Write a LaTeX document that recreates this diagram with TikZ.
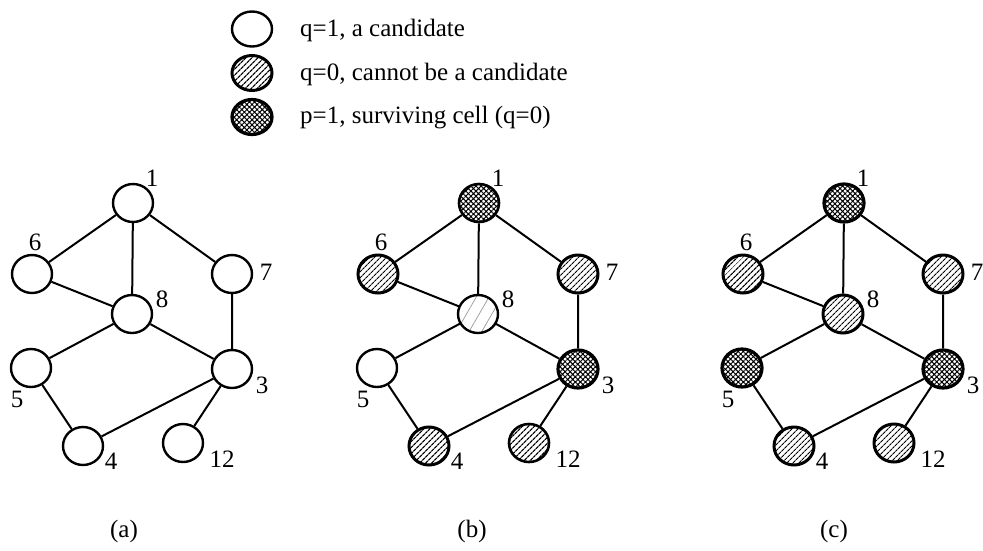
\documentclass[tikz,border=0pt]{standalone}
\usepackage{fontspec}
\setmainfont{Liberation Serif}
\usetikzlibrary{shapes.geometric,patterns.meta}
\begin{document}
\begin{tikzpicture}[x=1pt,y=-1pt,
  cell/.style={ellipse,minimum width=40pt,minimum height=38pt,inner sep=0pt,draw,line width=2.4pt},
  cand/.style={cell,fill=white},
  nocand/.style={cell,line width=3pt,pattern={Lines[angle=45,distance=4pt,line width=1.2pt]}},
  surv/.style={cell,line width=3.2pt,pattern={Hatch[angle=45,distance=3.6pt,line width=1pt]}},
  faint/.style={cell,pattern={Lines[angle=60,distance=11pt,line width=0.7pt]},pattern color=black!40},
  lab/.style={inner sep=0pt,font=\fontsize{25}{28}\selectfont},
  legt/.style={inner sep=0pt,anchor=west,font=\fontsize{25}{28}\selectfont},
  edge/.style={line width=2pt}]
\useasboundingbox (0,0) rectangle (983,550);

% legend
\node[cand,minimum height=35pt] (leg1) at (252,29) {};
\node[nocand,minimum height=35pt] (leg2) at (252,73) {};
\node[surv,minimum height=35pt] (leg3) at (252,117) {};
\node[legt] (legt1) at (300,30) {q=1, a candidate};
\node[legt] (legt2) at (300,74) {q=0, cannot be a candidate};
\node[legt] (legt3) at (300,118) {p=1, surviving cell (q=0)};

% panel (a)
\begin{scope}[name prefix=a-]
\node[cand] (1) at (133,203) {};
\node[cand] (6) at (32,274) {};
\node[cand] (7) at (232,274) {};
\node[cand] (8) at (132,314) {};
\node[cand] (5) at (31,368) {};
\node[cand] (3) at (232,369) {};
\node[cand] (4) at (83,446) {};
\node[cand] (12) at (183,443) {};
\draw[edge] (1)--(6) (1)--(8) (1)--(7) (6)--(8) (7)--(3) (8)--(5) (8)--(3) (5)--(4) (4)--(3) (3)--(12);
\node[lab] (l1) at (152,178) {1};
\node[lab] (l6) at (35,242) {6};
\node[lab] (l7) at (266,272) {7};
\node[lab] (l8) at (162,299) {8};
\node[lab] (l5) at (17,399) {5};
\node[lab] (l3) at (262,385) {3};
\node[lab] (l4) at (111,461) {4};
\node[lab] (l12) at (222,459) {12};
\node[lab] (cap) at (124,531) {(a)};
\end{scope}

% panel (b)
\begin{scope}[name prefix=b-,xshift=346pt]
\node[surv,line width=2.6pt] (1) at (133,203) {};
\node[nocand] (6) at (32,274) {};
\node[nocand] (7) at (232,274) {};
\node[faint] (8) at (132,314) {};
\node[cand] (5) at (31,368) {};
\node[surv] (3) at (232,369) {};
\node[nocand] (4) at (83,446) {};
\node[nocand,line width=2.6pt] (12) at (183,443) {};
\draw[edge] (1)--(6) (1)--(8) (1)--(7) (6)--(8) (7)--(3) (8)--(5) (8)--(3) (5)--(4) (4)--(3) (3)--(12);
\node[lab] (l1) at (152,178) {1};
\node[lab] (l6) at (35,242) {6};
\node[lab] (l7) at (266,272) {7};
\node[lab] (l8) at (162,299) {8};
\node[lab] (l5) at (17,399) {5};
\node[lab] (l3) at (262,385) {3};
\node[lab] (l4) at (111,461) {4};
\node[lab] (l12) at (222,459) {12};
\node[lab] (cap) at (126,531) {(b)};
\end{scope}

% panel (c)
\begin{scope}[name prefix=c-,xshift=711pt]
\node[surv] (1) at (133,203) {};
\node[nocand] (6) at (32,274) {};
\node[nocand] (7) at (232,274) {};
\node[nocand] (8) at (132,314) {};
\node[surv] (5) at (31,368) {};
\node[surv] (3) at (232,369) {};
\node[nocand] (4) at (83,446) {};
\node[nocand] (12) at (183,443) {};
\draw[edge] (1)--(6) (1)--(8) (1)--(7) (6)--(8) (7)--(3) (8)--(5) (8)--(3) (5)--(4) (4)--(3) (3)--(12);
\node[lab] (l1) at (152,178) {1};
\node[lab] (l6) at (35,242) {6};
\node[lab] (l7) at (266,272) {7};
\node[lab] (l8) at (162,299) {8};
\node[lab] (l5) at (17,399) {5};
\node[lab] (l3) at (262,385) {3};
\node[lab] (l4) at (111,461) {4};
\node[lab] (l12) at (222,459) {12};
\node[lab] (cap) at (123,531) {(c)};
\end{scope}
\end{tikzpicture}
\end{document}
